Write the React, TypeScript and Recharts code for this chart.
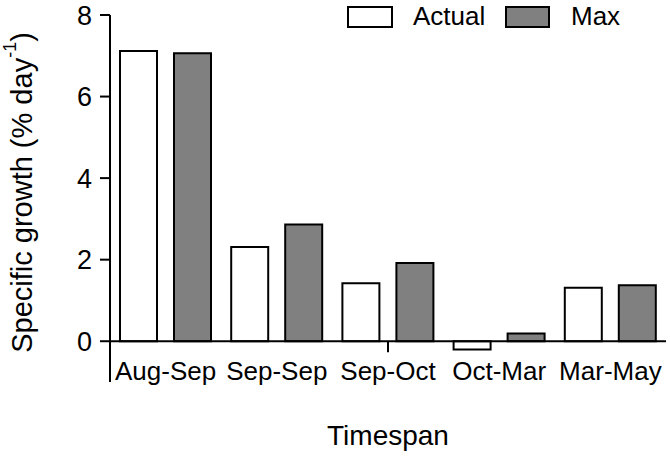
import React from 'react';
import { BarChart, Bar, XAxis, YAxis, ReferenceLine, Legend } from 'recharts';

const categories = ['Aug-Sep', 'Sep-Sep', 'Sep-Oct', 'Oct-Mar', 'Mar-May'];
const actualValues = [7.12, 2.31, 1.42, -0.2, 1.31];
const maxValues = [7.06, 2.86, 1.92, 0.19, 1.37];
const yTicks = [0, 2, 4, 6, 8];

const data = categories.map((c, i) => ({ name: c, actual: actualValues[i], max: maxValues[i] }));

const FONT = 'Liberation Sans, Arial, sans-serif';

const XTick = (props: any) => {
  const { x, y, payload } = props;
  return (
    <text x={x} y={y} dy={-10} textAnchor="middle" fontFamily={FONT} fontSize={26} fill="#000">
      {payload.value}
    </text>
  );
};

const YLabel = (props: any) => {
  const vb = props.viewBox || {};
  const cx = 22;
  const cy = vb.y + vb.height / 2 - 6;
  return (
    <text x={cx} y={cy} transform={`rotate(-90 ${cx} ${cy})`} textAnchor="middle" dominantBaseline="central" fontFamily={FONT} fontSize={29} fill="#000">
      Specific growth (% day
      <tspan fontSize={18} dy={-12}>-1</tspan>
      <tspan dy={12}>)</tspan>
    </text>
  );
};

const LegendContent = () => (
  <div style={{ display: 'flex', alignItems: 'center', fontFamily: FONT, fontSize: 26, color: '#000' }}>
    <div style={{ width: 42, height: 18, border: '2px solid #000', background: '#fff' }} />
    <span style={{ marginLeft: 20, width: 92 }}>Actual</span>
    <div style={{ width: 41, height: 18, border: '2px solid #000', background: '#808080' }} />
    <span style={{ marginLeft: 21 }}>Max</span>
  </div>
);

export default function App() {
  return (
    <div style={{ position: 'absolute', left: 0, top: 0, width: 670, height: 456, background: '#fff' }}>
      <BarChart
        width={670}
        height={456}
        data={data}
        margin={{ top: 15, right: 4, bottom: 44, left: 50 }}
        barCategoryGap={10}
        barGap={17}
      >
        <XAxis
          dataKey="name"
          axisLine={false}
          tickLine={false}
          height={30}
          tick={<XTick />}
          interval={0}
          label={{ value: 'Timespan', position: 'insideBottom', offset: -33, fontFamily: FONT, fontSize: 28, fill: '#000' }}
        />
        <YAxis
          domain={[-1, 8]}
          ticks={yTicks}
          width={60}
          axisLine={{ stroke: '#000', strokeWidth: 2 }}
          tickLine={{ stroke: '#000', strokeWidth: 2 }}
          tickSize={10}
          tickMargin={8}
          tick={{ fontFamily: FONT, fontSize: 27, fill: '#000' }}
          label={<YLabel />}
        />
        <ReferenceLine y={0} stroke="#000" strokeWidth={2} ifOverflow="extendDomain" />
        <ReferenceLine
          segment={[{ x: 'Sep-Oct', y: 0 }, { x: 'Sep-Oct', y: -0.27 }]}
          stroke="#000"
          strokeWidth={2}
        />
        <Legend
          content={<LegendContent />}
          layout="horizontal"
          verticalAlign="middle"
          align="center"
          wrapperStyle={{ position: 'absolute', left: 347, top: 1, width: 320 }}
        />
        <Bar dataKey="actual" name="Actual" fill="#ffffff" stroke="#000" strokeWidth={2} isAnimationActive={false} />
        <Bar dataKey="max" name="Max" fill="#808080" stroke="#000" strokeWidth={2} isAnimationActive={false} />
      </BarChart>
    </div>
  );
}
